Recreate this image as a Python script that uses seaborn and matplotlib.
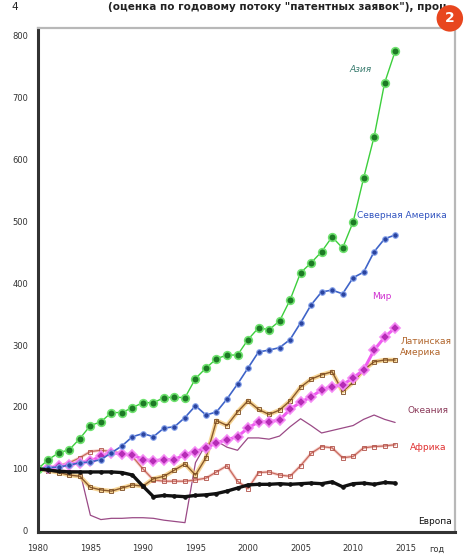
import matplotlib
matplotlib.use('Agg')
import matplotlib.pyplot as plt
from matplotlib import font_manager
import seaborn as sns
import pandas as pd

years = list(range(1980, 2015))

asia = [100, 115, 126, 131, 149, 170, 176, 191, 191, 199, 207, 207, 215, 216, 215,
        246, 263, 278, 284, 284, 309, 328, 325, 339, 373, 417, 433, 451, 475, 457,
        499, 570, 637, 724, 775]
north_america = [100, 102, 103, 106, 110, 111, 115, 126, 137, 152, 157, 152, 166, 168, 183,
                 202, 187, 192, 213, 237, 263, 289, 292, 296, 309, 336, 365, 386, 389, 383,
                 409, 418, 451, 472, 478]
world = [100, 101, 104, 107, 110, 113, 120, 126, 124, 123, 115, 113, 115, 115, 123,
         128, 134, 142, 147, 152, 166, 176, 176, 179, 196, 208, 216, 228, 233, 236,
         247, 260, 292, 313, 328]
latin_america = [100, 97, 94, 90, 88, 70, 66, 64, 69, 74, 72, 84, 88, 98, 108,
                 90, 118, 178, 170, 192, 210, 196, 188, 195, 210, 232, 245, 252, 257, 225,
                 240, 260, 273, 276, 276]
oceania = [100, 100, 98, 97, 96, 25, 18, 20, 20, 21, 21, 20, 17, 15, 13,
           110, 140, 145, 135, 130, 150, 150, 148, 153, 168, 181, 170, 158, 162, 166,
           170, 180, 187, 180, 175]
africa = [100, 102, 105, 110, 118, 128, 130, 128, 125, 120, 100, 82, 80, 80, 80,
          82, 85, 95, 105, 80, 68, 94, 95, 90, 88, 105, 125, 136, 134, 118,
          120, 134, 136, 137, 139]
europe = [100, 98, 96, 95, 95, 95, 95, 95, 94, 90, 72, 55, 57, 56, 55,
          57, 58, 60, 64, 69, 74, 75, 75, 76, 75, 76, 77, 76, 79, 71,
          76, 77, 75, 78, 77]

x_ticks = [1980, 1985, 1990, 1995, 2000, 2005, 2010, 2015, 2018]
x_tick_labels = ['1980', '1985', '1990', '1995', '2000', '2005', '2010', '2015', 'год']
y_ticks = [0, 100, 200, 300, 400, 500, 600, 700, 800]

df = pd.DataFrame({'year': years, 'Азия': asia, 'Северная Америка': north_america,
                   'Мир': world, 'Латинская Америка': latin_america,
                   'Океания': oceania, 'Африка': africa, 'Европа': europe})

sns.set_style('white')
names = {f.name for f in font_manager.fontManager.ttflist}
narrow = [n for n in ['Liberation Sans Narrow', 'DejaVu Sans Condensed'] if n in names]
plt.rcParams['font.family'] = narrow + ['DejaVu Sans']

fig = plt.figure(figsize=(4.73, 5.57), dpi=100)
ax = fig.add_axes([0.080, 0.045, 0.882, 0.905])

# Oceania
sns.lineplot(data=df, x='year', y='Океания', ax=ax, color='#9a4a86', lw=0.9)
# Africa
sns.lineplot(data=df, x='year', y='Африка', ax=ax, color='#f0b0a8', lw=2.2, alpha=0.6)
sns.lineplot(data=df, x='year', y='Африка', ax=ax, color='#c86a5e', lw=0.9,
             marker='s', markersize=2.5, markerfacecolor='none',
             markeredgecolor='#b05048', markeredgewidth=0.6)
# Latin America
sns.lineplot(data=df, x='year', y='Латинская Америка', ax=ax, color='#f3c46a', lw=3.2, alpha=0.7)
sns.lineplot(data=df, x='year', y='Латинская Америка', ax=ax, color='#8a5a2c', lw=1.0,
             marker='s', markersize=2.8, markerfacecolor='none',
             markeredgecolor='#7a4a20', markeredgewidth=0.6)
# World
sns.lineplot(data=df, x='year', y='Мир', ax=ax, color='#f05cf0', lw=2.2)
sns.lineplot(data=df, x='year', y='Мир', ax=ax, color='#f05cf0', lw=0,
             marker='D', markersize=5, markerfacecolor='#b62cb6',
             markeredgecolor='#f58af5', markeredgewidth=1.2)
# North America
sns.lineplot(data=df, x='year', y='Северная Америка', ax=ax, color='#3f64c8', lw=1.2,
             marker='o', markersize=4, markerfacecolor='#2a44a0',
             markeredgecolor='#8aa6ee', markeredgewidth=0.8)
# Asia
sns.lineplot(data=df, x='year', y='Азия', ax=ax, color='#3ccf3c', lw=1.0,
             marker='o', markersize=5.5, markerfacecolor='#1d7a25',
             markeredgecolor='#6fe26f', markeredgewidth=1.2)
# Europe
sns.lineplot(data=df, x='year', y='Европа', ax=ax, color='#111111', lw=2.4,
             marker='o', markersize=2.5, markerfacecolor='#111111',
             markeredgecolor='#111111')

ax.set_xlim(1980, 2019.7)
ax.set_ylim(-2, 813)
ax.set_xlabel('')
ax.set_ylabel('')
ax.set_xticks(x_ticks)
ax.set_xticklabels(x_tick_labels, fontsize=6, color='#333333')
ax.set_yticks(y_ticks)
ax.set_yticklabels([str(v) for v in y_ticks], fontsize=6, color='#333333')
ax.tick_params(axis='x', direction='in', length=4, width=1.2, colors='#222222',
               labelcolor='#333333', pad=9)
ax.tick_params(axis='y', direction='inout', length=4, width=1.2, colors='#222222',
               labelcolor='#333333', pad=5)
ax.xaxis.get_major_ticks()[-1].tick1line.set_visible(False)

for side in ['left', 'bottom']:
    ax.spines[side].set_color('#333333')
    ax.spines[side].set_linewidth(2.2)
for side in ['top', 'right']:
    ax.spines[side].set_color('#b8b8b8')
    ax.spines[side].set_linewidth(1.6)

# series labels
ax.text(2009.7, 745, 'Азия', color='#3b7d70', fontsize=6.5, style='italic', va='center')
ax.text(2010.4, 510, 'Северная Америка', color='#3355c0', fontsize=6.5, va='center')
ax.text(2011.8, 378, 'Мир', color='#d030d0', fontsize=6.5, va='center')
ax.text(2014.5, 297, 'Латинская\nАмерика', color='#b0642a', fontsize=6.5,
        linespacing=1.4, va='center')
ax.text(2015.2, 195, 'Океания', color='#8b3a5a', fontsize=6.5, va='center')
ax.text(2015.4, 134, 'Африка', color='#e03030', fontsize=6.5, va='center')
ax.text(2016.2, 15, 'Европа', color='#111111', fontsize=6.5, va='center')

# header line and badge
fig.text(0.025, 0.997, '4', fontsize=7.5, color='#222222', va='top')
fig.text(0.59, 0.997, '(оценка по годовому потоку "патентных заявок"), проц.',
         fontsize=7.5, color='#222222', ha='center', va='top', weight='bold')
fig.text(0.951, 0.967, '2', fontsize=10, color='white', weight='bold',
         ha='center', va='center',
         bbox=dict(boxstyle='circle,pad=0.45', fc='#e8461e', ec='none'))

fig.savefig('out.png', dpi=100)
